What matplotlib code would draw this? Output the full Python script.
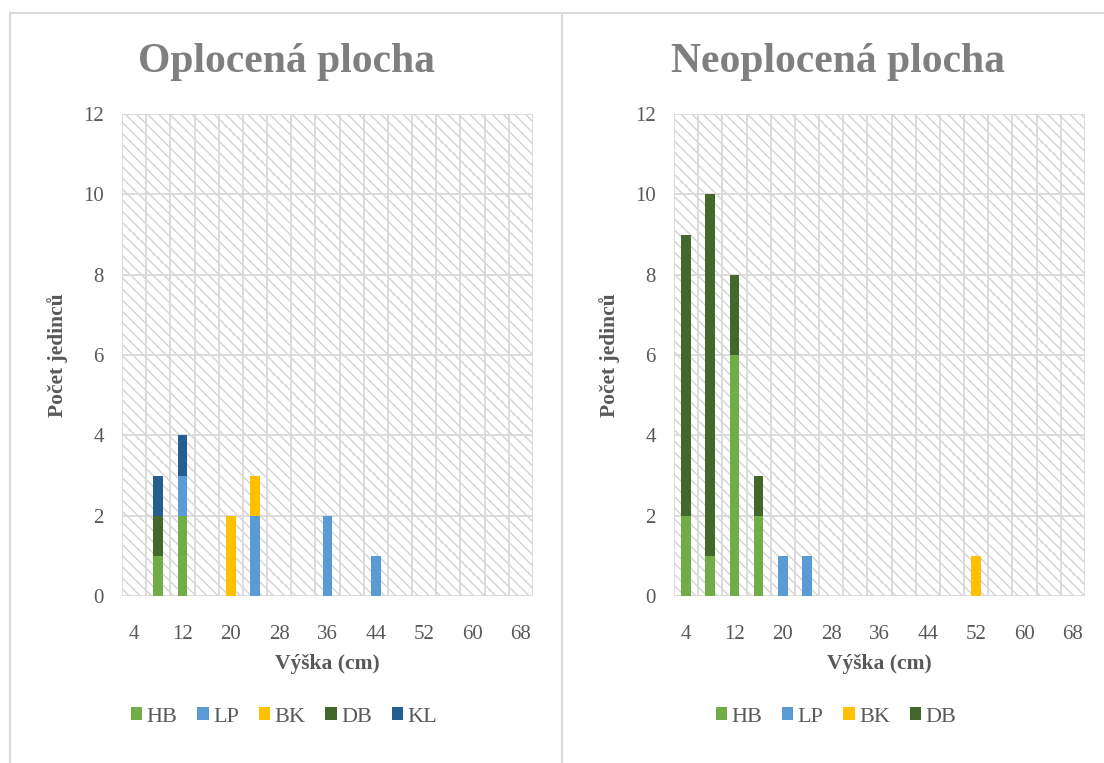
import numpy as np
import matplotlib
matplotlib.use("Agg")
import matplotlib.pyplot as plt
from matplotlib.patches import Rectangle, Patch
from matplotlib.lines import Line2D

# ---- data ----
heights = ['4', '8', '12', '16', '20', '24', '28', '32', '36', '40',
           '44', '48', '52', '56', '60', '64', '68']

# Oplocená plocha (fenced)
opl_HB = [0, 1, 2, 0, 0, 0, 0, 0, 0, 0, 0, 0, 0, 0, 0, 0, 0]
opl_LP = [0, 0, 1, 0, 0, 2, 0, 0, 2, 0, 1, 0, 0, 0, 0, 0, 0]
opl_BK = [0, 0, 0, 0, 2, 1, 0, 0, 0, 0, 0, 0, 0, 0, 0, 0, 0]
opl_DB = [0, 1, 0, 0, 0, 0, 0, 0, 0, 0, 0, 0, 0, 0, 0, 0, 0]
opl_KL = [0, 1, 1, 0, 0, 0, 0, 0, 0, 0, 0, 0, 0, 0, 0, 0, 0]

# Neoplocená plocha (unfenced)
neo_HB = [2, 1, 6, 2, 0, 0, 0, 0, 0, 0, 0, 0, 0, 0, 0, 0, 0]
neo_LP = [0, 0, 0, 0, 1, 1, 0, 0, 0, 0, 0, 0, 0, 0, 0, 0, 0]
neo_BK = [0, 0, 0, 0, 0, 0, 0, 0, 0, 0, 0, 0, 1, 0, 0, 0, 0]
neo_DB = [7, 9, 2, 1, 0, 0, 0, 0, 0, 0, 0, 0, 0, 0, 0, 0, 0]

colors = {'HB': '#70AD47', 'LP': '#5B9BD5', 'BK': '#FFC000',
          'DB': '#43682B', 'KL': '#255E91'}

plt.rcParams['font.family'] = ['Liberation Serif', 'DejaVu Serif']
plt.rcParams['hatch.linewidth'] = 1.0

W, H = 1104, 763
fig = plt.figure(figsize=(W / 100, H / 100), dpi=100)
fig.patch.set_facecolor('white')

def fx(px):
    return px / W

def fy(py):
    return 1 - py / H

title_col = '#7F7F7F'
text_col = '#595959'
grid_col = '#D9D9D9'


def draw_panel(left_px, right_px, series, title, title_x, leg_x):
    top_px, bot_px = 114, 596
    ax = fig.add_axes([fx(left_px), fy(bot_px), fx(right_px - left_px),
                       (bot_px - top_px) / H])
    x = np.arange(len(heights))
    ax.add_patch(Rectangle((0, 0), 1, 1, transform=ax.transAxes,
                           facecolor='white', edgecolor='#D3D3D3',
                           hatch='\\\\\\', lw=0, zorder=0))
    bottom = np.zeros(len(heights))
    for name, vals in series:
        v = np.array(vals, dtype=float)
        ax.bar(x, v, width=0.4, bottom=bottom, color=colors[name],
               zorder=2, label=name)
        bottom += v
    ax.set_xlim(-0.5, len(heights) - 0.5)
    ax.set_ylim(0, 12)
    ax.set_yticks(np.arange(0, 13, 2))
    ax.set_xticks(x[::2])
    ax.set_xticklabels(heights[::2])
    ax.set_xticks(np.arange(-0.5, len(heights), 1), minor=True)
    ax.grid(True, which='major', axis='y', color=grid_col, lw=1.3, zorder=1)
    ax.grid(True, which='minor', axis='x', color=grid_col, lw=1.3, zorder=1)
    ax.set_axisbelow(True)
    for s in ax.spines.values():
        s.set_visible(False)
    ax.tick_params(which='both', length=0, labelsize=15, colors=text_col)
    ax.tick_params(axis='x', pad=21)
    ax.tick_params(axis='y', pad=13)
    ax.set_xlabel('Výška (cm)', fontsize=15.5, fontweight='bold',
                  color=text_col, labelpad=7)
    ax.set_ylabel('Počet jedinců', fontsize=15.5, fontweight='bold',
                  color=text_col, labelpad=11)
    fig.text(fx(title_x), fy(62), title, ha='center', va='center',
             fontsize=30, fontweight='bold', color=title_col)
    handles = [Patch(facecolor=colors[n], edgecolor='none', label=n)
               for n, _ in series]
    fig.legend(handles=handles, loc='center', ncol=len(handles),
               bbox_to_anchor=(fx(leg_x), fy(717)), frameon=False,
               fontsize=16, handlelength=0.5, handleheight=0.5,
               handletextpad=0.2, columnspacing=0.9, labelcolor=text_col)
    return ax


draw_panel(122, 533,
           [('HB', opl_HB), ('LP', opl_LP), ('BK', opl_BK),
            ('DB', opl_DB), ('KL', opl_KL)],
           'Oplocená plocha', 286, 284)
draw_panel(674, 1085,
           [('HB', neo_HB), ('LP', neo_LP), ('BK', neo_BK),
            ('DB', neo_DB)],
           'Neoplocená plocha', 838, 836)

# chart-area borders
bc = '#D9D9D9'
fig.add_artist(Line2D([fx(10), 1], [fy(13), fy(13)], color=bc, lw=1.5))
fig.add_artist(Line2D([fx(10), fx(10)], [fy(13), 0], color=bc, lw=1.5))
fig.add_artist(Line2D([fx(562), fx(562)], [fy(13), 0], color=bc, lw=1.5))

fig.savefig('out.png', dpi=100)
